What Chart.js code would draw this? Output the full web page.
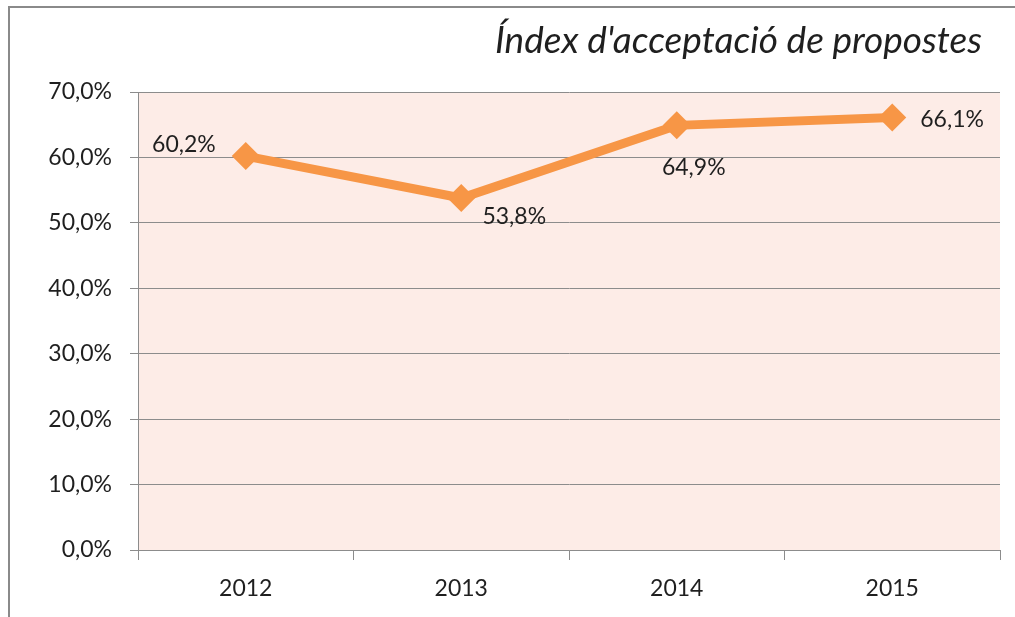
<!DOCTYPE html>
<html>
<head>
<meta charset="utf-8">
<script src="https://cdn.jsdelivr.net/npm/chart.js@4.4.0/dist/chart.umd.min.js"></script>
<style>
  html, body { margin: 0; padding: 0; background: #fff; }
  #wrap { position: relative; width: 1015px; height: 617px; }
  #frame { position: absolute; left: 8px; top: 6px; right: -5px; bottom: -5px; border-left: 2px solid #8a8a8a; border-top: 2px solid #8a8a8a; }
  canvas { position: absolute; left: 0; top: 0; }
</style>
</head>
<body>
<div id="wrap">
  <div id="frame"></div>
  <canvas id="graph" width="1015" height="617"></canvas>
</div>
<script>
var years = ["2012", "2013", "2014", "2015"];
var acceptance = [0.602, 0.538, 0.649, 0.661];
var yTicks = [0, 0.1, 0.2, 0.3, 0.4, 0.5, 0.6, 0.7];
var labelSide = ["left", "belowRight", "below", "right"];
var chartTitle = "Índex d'acceptació de propostes";

var fontFamily = "Lato, 'Open Sans', sans-serif";
var textColor = "#1f1f1f";

function pct(v) {
  return (v * 100).toFixed(1).replace(".", ",") + "%";
}

// fondo rosado del área del gráfico
var plotBackground = {
  id: "plotBackground",
  beforeDraw: function(chart) {
    var a = chart.chartArea;
    var ctx = chart.ctx;
    ctx.save();
    ctx.fillStyle = "#fdece7";
    ctx.fillRect(a.left, a.top, a.right - a.left, a.bottom - a.top);
    ctx.restore();
  }
};

// título en cursiva, alineado a la derecha
var titleText = {
  id: "titleText",
  afterDraw: function(chart) {
    var ctx = chart.ctx;
    ctx.save();
    ctx.font = "italic 37px " + fontFamily;
    ctx.fillStyle = textColor;
    ctx.textAlign = "right";
    ctx.textBaseline = "alphabetic";
    ctx.fillText(chartTitle, 982, 53);
    ctx.restore();
  }
};

// etiquetas de datos
var dataLabels = {
  id: "dataLabels",
  afterDatasetsDraw: function(chart) {
    var ctx = chart.ctx;
    var meta = chart.getDatasetMeta(0);
    ctx.save();
    ctx.font = "23px " + fontFamily;
    ctx.fillStyle = textColor;
    ctx.textBaseline = "middle";
    meta.data.forEach(function(pt, i) {
      var txt = pct(acceptance[i]);
      var side = labelSide[i];
      if (side == "left") {
        ctx.textAlign = "right";
        ctx.fillText(txt, pt.x - 30, pt.y - 12);
      } else if (side == "right") {
        ctx.textAlign = "left";
        ctx.fillText(txt, pt.x + 28, pt.y + 2);
      } else if (side == "below") {
        ctx.textAlign = "center";
        ctx.fillText(txt, pt.x + 17, pt.y + 42);
      } else {
        ctx.textAlign = "center";
        ctx.fillText(txt, pt.x + 53, pt.y + 19);
      }
    });
    ctx.restore();
  }
};

var ctx = document.getElementById("graph").getContext("2d");
var chart = new Chart(ctx, {
  type: "line",
  data: {
    labels: years,
    datasets: [{
      data: acceptance,
      borderColor: "#f79646",
      backgroundColor: "#f79646",
      borderWidth: 9,
      pointStyle: "rectRot",
      pointRadius: 14,
      pointBorderWidth: 0,
      tension: 0
    }]
  },
  options: {
    responsive: false,
    animation: false,
    layout: { padding: { left: 0, right: 15, top: 92, bottom: 0 } },
    plugins: {
      legend: { display: false },
      tooltip: { enabled: false }
    },
    scales: {
      x: {
        type: "category",
        offset: true,
        afterFit: function(s) { s.height = 67; },
        grid: {
          offset: true,
          drawOnChartArea: false,
          color: "#8c8c8c",
          tickLength: 10
        },
        border: { color: "#8c8c8c" },
        ticks: {
          color: textColor,
          padding: 15,
          font: { family: fontFamily, size: 23 }
        }
      },
      y: {
        min: 0,
        max: 0.7,
        afterFit: function(s) { s.width = 138; },
        afterBuildTicks: function(s) {
          s.ticks = yTicks.map(function(v) { return { value: v }; });
        },
        grid: { color: "#8c8c8c", tickLength: 8 },
        border: { color: "#8c8c8c" },
        ticks: {
          color: textColor,
          padding: 18,
          font: { family: fontFamily, size: 23 },
          callback: function(v) { return pct(v); }
        }
      }
    }
  },
  plugins: [plotBackground, titleText, dataLabels]
});
</script>
</body>
</html>
